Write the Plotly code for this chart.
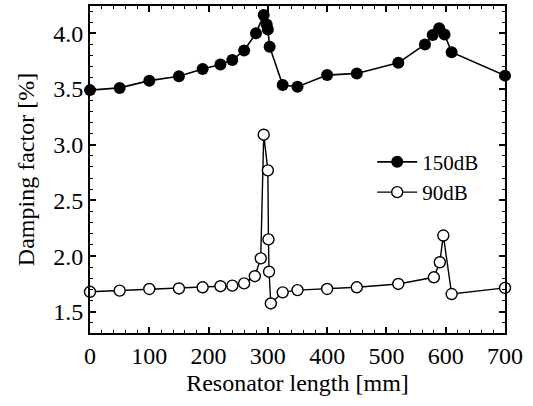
import plotly.graph_objects as go

x_150 = [0, 50, 100, 150, 190, 220, 240, 260, 280, 293, 298, 300, 303, 325, 350, 400, 450, 520, 565, 578, 589, 598, 610, 700]
y_150 = [3.49, 3.51, 3.575, 3.615, 3.68, 3.72, 3.76, 3.845, 4.0, 4.165, 4.08, 4.035, 3.88, 3.535, 3.52, 3.625, 3.64, 3.735, 3.90, 3.985, 4.045, 3.99, 3.83, 3.62]

x_90 = [0, 50, 100, 150, 190, 220, 240, 260, 278, 288, 293, 300, 301, 302, 305, 325, 350, 400, 450, 520, 580, 590, 596, 610, 700]
y_90 = [1.68, 1.69, 1.705, 1.71, 1.72, 1.73, 1.735, 1.755, 1.82, 1.98, 3.09, 2.77, 2.15, 1.86, 1.575, 1.675, 1.695, 1.705, 1.72, 1.75, 1.81, 1.945, 2.185, 1.66, 1.715]

font = "Liberation Serif"

fig = go.Figure()
fig.add_trace(go.Scatter(
    x=x_150, y=y_150, name="150dB", mode="lines+markers",
    line=dict(color="black", width=1.6),
    marker=dict(symbol="circle", size=12, color="black"),
    cliponaxis=False,
))
fig.add_trace(go.Scatter(
    x=x_90, y=y_90, name="90dB", mode="lines+markers",
    line=dict(color="black", width=1.4),
    marker=dict(symbol="circle", size=11, color="white", line=dict(color="black", width=1.4)),
    cliponaxis=False,
))

axis_common = dict(
    showline=True, linecolor="black", linewidth=2, mirror="allticks",
    ticks="inside", ticklen=6, tickwidth=1.5, tickcolor="black",
    showgrid=False, zeroline=False, automargin=False,
    tickfont=dict(family=font, size=24, color="black"),
)

fig.update_xaxes(
    range=[0, 700], dtick=100, tick0=0,
    minor=dict(dtick=20, ticks="inside", ticklen=3, tickcolor="black", tickwidth=1),
    title=dict(text="Resonator length [mm]", font=dict(family=font, size=24, color="black"), standoff=6),
    **axis_common,
)
fig.update_yaxes(
    range=[1.31, 4.245], dtick=0.5, tick0=1.5, tickformat=".1f",
    minor=dict(dtick=0.1, ticks="inside", ticklen=3, tickcolor="black", tickwidth=1),
    title=dict(text="Damping factor [%]", font=dict(family=font, size=24, color="black"), standoff=12),
    **axis_common,
)

fig.update_layout(
    width=533, height=406,
    margin=dict(l=90, r=28, t=6, b=73),
    paper_bgcolor="white", plot_bgcolor="white",
    showlegend=True,
    legend=dict(x=0.68, y=0.585, xanchor="left", yanchor="top",
                bgcolor="rgba(0,0,0,0)", font=dict(family=font, size=21, color="black"),
                itemwidth=40, tracegroupgap=2),
)

fig.write_html("out.html", config={"displayModeBar": False},
               post_script="document.body.style.margin='0';")
